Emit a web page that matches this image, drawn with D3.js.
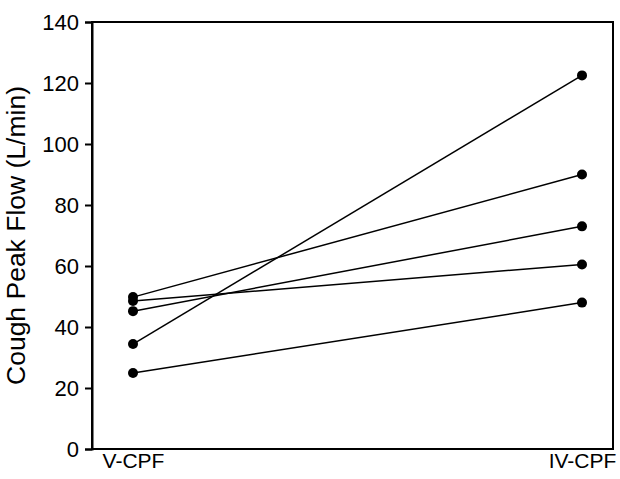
<!DOCTYPE html>
<html>
<head>
<meta charset="utf-8">
<script src="https://cdn.jsdelivr.net/npm/d3@7"></script>
<style>
  body { margin: 0; background: #fff; }
  text { font-family: "Liberation Sans", Arial, sans-serif; }
</style>
</head>
<body>
<div id="chart"></div>
<script>
var categories = ["V-CPF", "IV-CPF"];
var vCpf = [49.8, 48.5, 45.2, 34.4, 24.9];
var ivCpf = [90, 60.5, 73, 122.5, 48];
var yTicks = [0, 20, 40, 60, 80, 100, 120, 140];

var margin = { top: 22, right: 7, bottom: 30, left: 92 };
var width = 620 - margin.left - margin.right;
var height = 479 - margin.top - margin.bottom;

var svg = d3.select("#chart")
    .append("svg")
    .attr("width", 620)
    .attr("height", 479)
    .append("g")
    .attr("transform", "translate(" + margin.left + "," + margin.top + ")");

var x = d3.scalePoint()
    .domain(categories)
    .range([41, width - 31]);

var y = d3.scaleLinear()
    .domain([0, 140])
    .range([height, 0]);

// frame
svg.append("rect")
    .attr("x", 0)
    .attr("y", 0)
    .attr("width", width)
    .attr("height", height)
    .attr("fill", "none")
    .attr("stroke", "#000")
    .attr("stroke-width", 2);

var yAxis = svg.append("g")
    .call(d3.axisLeft(y).tickValues(yTicks).tickSize(7).tickPadding(6));
yAxis.select(".domain").attr("stroke-width", 2);
yAxis.selectAll(".tick line").attr("stroke-width", 2);
yAxis.selectAll(".tick text")
    .style("font-size", "22px")
    .style("font-family", "'Liberation Sans', Arial, sans-serif")
    .attr("fill", "#000");

var xAxis = svg.append("g")
    .attr("transform", "translate(0," + height + ")")
    .call(d3.axisBottom(x).tickSize(0).tickPadding(4));
xAxis.select(".domain").remove();
xAxis.selectAll(".tick text")
    .style("font-size", "21px")
    .style("font-family", "'Liberation Sans', Arial, sans-serif")
    .attr("fill", "#000");

svg.append("text")
    .attr("transform", "translate(" + (-67) + "," + (height / 2) + ") rotate(-90)")
    .attr("text-anchor", "middle")
    .style("font-size", "26.5px")
    .text("Cough Peak Flow (L/min)");

var pairs = vCpf.map(function(v, i) { return [v, ivCpf[i]]; });

svg.selectAll("pairLine")
    .data(pairs)
    .enter()
    .append("line")
    .attr("x1", x(categories[0]))
    .attr("x2", x(categories[1]))
    .attr("y1", function(d) { return y(d[0]); })
    .attr("y2", function(d) { return y(d[1]); })
    .attr("stroke", "#000")
    .attr("stroke-width", 1.5);

svg.selectAll("leftDot")
    .data(vCpf)
    .enter()
    .append("circle")
    .attr("cx", x(categories[0]))
    .attr("cy", function(d) { return y(d); })
    .attr("r", 5)
    .attr("fill", "#000");

svg.selectAll("rightDot")
    .data(ivCpf)
    .enter()
    .append("circle")
    .attr("cx", x(categories[1]))
    .attr("cy", function(d) { return y(d); })
    .attr("r", 5)
    .attr("fill", "#000");
</script>
</body>
</html>
